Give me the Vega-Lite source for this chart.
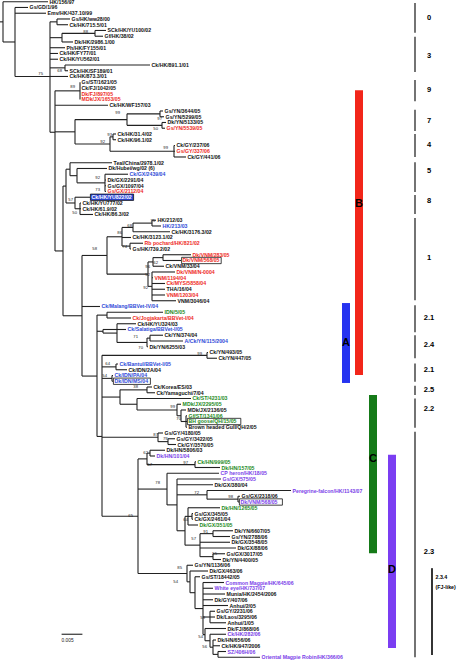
{
"$schema": "https://vega.github.io/schema/vega-lite/v6.json",
"width": 457, "height": 661, "padding": 0, "autosize": {"type": "none"},
"config": {"view": {"stroke": null}, "text": {"font": "Liberation Sans"}},
"resolve": {"scale": {"fill": "independent", "color": "independent"}},
"datasets": {
"v": [
{"x":0.75,"a":0,"b":7.0},{"x":3.75,"a":1,"b":13.0},{"x":12.5,"a":3.5,"b":22.7},{"x":14.25,"a":3,"b":4},{"x":23.75,"a":5,"b":6},{"x":15.5,"a":5.5,"b":7},{"x":16.25,"a":11,"b":12},{"x":13.75,"a":15.5,"b":43.34},{"x":20,"a":14,"b":17},{"x":18.75,"a":20.5,"b":24.75},{"x":31.75,"a":19.5,"b":21.5},{"x":40,"a":19,"b":20},{"x":40.5,"a":21,"b":22},{"x":27.5,"a":23.5,"b":26},{"x":28.25,"a":23,"b":24},{"x":43.5,"a":25,"b":27},
{"x":15.75,"a":32.06,"b":54.61},{"x":16.5,"a":29.125,"b":35},{"x":17.5,"a":28,"b":30.25},{"x":19.25,"a":29,"b":31.5},{"x":26.25,"a":30,"b":33},{"x":18.75,"a":34,"b":36},{"x":20,"a":35,"b":37},
{"x":20.5,"a":44.125,"b":65.1},{"x":26.75,"a":40.875,"b":47.375},{"x":30.5,"a":39.25,"b":42.5},{"x":33.25,"a":38.5,"b":40},{"x":38,"a":38,"b":39},{"x":32.5,"a":42,"b":43},{"x":37,"a":45.25,"b":49.5},{"x":38.25,"a":44.5,"b":46},{"x":40.75,"a":44,"b":45},{"x":38,"a":47,"b":52},
{"x":24.25,"a":54.5,"b":75.6},{"x":26.75,"a":54,"b":55},{"x":25.75,"a":57,"b":57.625},{"x":29.25,"a":56,"b":59.25},{"x":36.75,"a":58.5,"b":60},{"x":37.5,"a":58,"b":59},{"x":51.75,"a":61,"b":62},{"x":29,"a":63,"b":64},{"x":28,"a":65,"b":66},{"x":30,"a":67.5,"b":70},{"x":36.75,"a":67,"b":68},{"x":34.25,"a":69,"b":71},{"x":44.25,"a":70,"b":72},{"x":45.25,"a":71,"b":73},{"x":46.5,"a":72,"b":74},
{"x":25.5,"a":61.5,"b":89.47},{"x":39.5,"a":75,"b":76.5},{"x":42,"a":76,"b":77},{"x":34.5,"a":79.5,"b":99.44},{"x":36.75,"a":78.5,"b":80.5},{"x":37.5,"a":78,"b":79},{"x":48.75,"a":80,"b":81},{"x":41.75,"a":82,"b":87.5},{"x":44.25,"a":83,"b":92},{"x":51.75,"a":85,"b":86.5},{"x":59.5,"a":86,"b":87},{"x":46.25,"a":89.5,"b":94.5},{"x":47,"a":88,"b":91},{"x":48,"a":89,"b":90},{"x":50,"a":92.5,"b":96.5},{"x":53.25,"a":92,"b":93},{"x":53.25,"a":96,"b":97},
{"x":46.75,"a":98,"b":100.88},{"x":47.5,"a":99,"b":102.77},{"x":48.75,"a":100,"b":105.53},{"x":50.75,"a":101,"b":110.06},{"x":52.5,"a":106,"b":108},{"x":51.25,"a":109,"b":111.125},{"x":52.5,"a":110,"b":112.25},{"x":53.25,"a":111,"b":113.5},{"x":54.5,"a":113,"b":114}
],
"h": [
{"p":0,"x":0.75,"y":3.5},{"p":0.75,"x":3.75,"y":7.0},{"p":3.75,"x":12.5,"y":13.0},{"p":12.5,"x":14.25,"y":3.5},{"p":12.5,"x":15.5,"y":6.25},{"p":15.5,"x":23.75,"y":5.5},{"p":12.5,"x":16.25,"y":11.5},{"p":12.5,"x":13.75,"y":22.7},{"p":13.75,"x":20,"y":15.5},{"p":13.75,"x":18.75,"y":22.625},{"p":18.75,"x":31.75,"y":20.5},{"p":31.75,"x":40,"y":19.5},{"p":31.75,"x":40.5,"y":21.5},{"p":18.75,"x":27.5,"y":24.75},{"p":27.5,"x":28.25,"y":23.5},{"p":27.5,"x":43.5,"y":26},
{"p":13.75,"x":15.75,"y":43.34},{"p":15.75,"x":16.5,"y":32.06},{"p":16.5,"x":17.5,"y":29.125},{"p":17.5,"x":19.25,"y":30.25},{"p":19.25,"x":26.25,"y":31.5},{"p":16.5,"x":18.75,"y":35},{"p":18.75,"x":20,"y":36},
{"p":15.75,"x":20.5,"y":54.61},{"p":20.5,"x":26.75,"y":44.125},{"p":26.75,"x":30.5,"y":40.875},{"p":30.5,"x":33.25,"y":39.25},{"p":33.25,"x":38,"y":38.5},{"p":30.5,"x":32.5,"y":42.5},{"p":26.75,"x":37,"y":47.375},{"p":37,"x":38.25,"y":45.25},{"p":38.25,"x":40.75,"y":44.5},{"p":37,"x":38,"y":49.5},
{"p":20.5,"x":24.25,"y":65.1},{"p":24.25,"x":26.75,"y":54.5},{"p":24.25,"x":25.75,"y":57.31},{"p":25.75,"x":29.25,"y":57.625},{"p":29.25,"x":36.75,"y":59.25},{"p":36.75,"x":37.5,"y":58.5},{"p":25.5,"x":51.75,"y":61.5},{"p":25.5,"x":29,"y":63.5},{"p":25.5,"x":28,"y":65.5},{"p":25.5,"x":30,"y":68.75},{"p":30,"x":36.75,"y":67.5},{"p":30,"x":34.25,"y":70},{"p":34.25,"x":44.25,"y":71},{"p":44.25,"x":45.25,"y":72},{"p":45.25,"x":46.5,"y":73},
{"p":24.25,"x":25.5,"y":75.6},{"p":25.5,"x":39.5,"y":75.75},{"p":39.5,"x":42,"y":76.5},{"p":25.5,"x":34.5,"y":89.47},{"p":34.5,"x":36.75,"y":79.5},{"p":36.75,"x":37.5,"y":78.5},{"p":36.75,"x":48.75,"y":80.5},{"p":34.5,"x":41.75,"y":84.75},{"p":41.75,"x":44.25,"y":87.5},{"p":44.25,"x":51.75,"y":85.75},{"p":51.75,"x":59.5,"y":86.5},{"p":44.25,"x":46.25,"y":92},{"p":46.25,"x":47,"y":89.5},{"p":47,"x":48,"y":89.5},{"p":46.25,"x":50,"y":94.5},{"p":50,"x":53.25,"y":92.5},{"p":50,"x":53.25,"y":96.5},
{"p":34.5,"x":46.75,"y":99.44},{"p":46.75,"x":47.5,"y":100.88},{"p":47.5,"x":48.75,"y":102.77},{"p":48.75,"x":50.75,"y":105.53},{"p":50.75,"x":52.5,"y":107},{"p":50.75,"x":51.25,"y":110.06},{"p":51.25,"x":52.5,"y":111.125},{"p":52.5,"x":53.25,"y":112.25},{"p":53.25,"x":54.5,"y":113.5}
],
"leaves": [
{"i":0,"p":0.75,"x":12,"t":"HK/156/97","c":"k"},
{"i":1,"p":3.75,"x":7,"t":"Gs/GD/1/96","c":"k"},
{"i":2,"p":3.75,"x":11.5,"t":"Emv/HK/437.10/99","c":"k"},
{"i":3,"p":14.25,"x":17.5,"t":"Gs/HK/ww28/00","c":"k"},
{"i":4,"p":14.25,"x":17,"t":"Ck/HK/715.5/01","c":"k"},
{"i":5,"p":23.75,"x":26.5,"t":"SCk/HK/YU100/02","c":"k"},
{"i":6,"p":23.75,"x":25.75,"t":"Gf/HK/38/02","c":"k"},
{"i":7,"p":15.5,"x":18.25,"t":"Dk/HK/2986.1/00","c":"k"},
{"i":8,"p":12.5,"x":16.25,"t":"Ph/HK/FY155/01","c":"k"},
{"i":9,"p":12.5,"x":14.5,"t":"Ck/HK/FY77/01","c":"k"},
{"i":10,"p":12.5,"x":14.5,"t":"Ck/HK/YU562/01","c":"k"},
{"i":11,"p":16.25,"x":37.5,"t":"Ck/HK/891.1/01","c":"k"},
{"i":12,"p":16.25,"x":17,"t":"SCk/HK/SF189/01","c":"k"},
{"i":13,"p":12.5,"x":17,"t":"Ck/HK/873.3/01","c":"k"},
{"i":14,"p":20,"x":20,"t":"Gs/ST/1621/05","c":"k"},
{"i":15,"p":20,"x":20,"t":"Ck/FJ/1042/05","c":"k"},
{"i":16,"p":20,"x":20,"t":"Dk/FJ/897/05","c":"r"},
{"i":17,"p":20,"x":20,"t":"MDk/JX/1653/05","c":"r"},
{"i":18,"p":13.75,"x":27,"t":"Ck/HK/WF157/03","c":"k"},
{"i":19,"p":40,"x":40.75,"t":"Gs/YN/3644/05","c":"k"},
{"i":20,"p":40,"x":41,"t":"Gs/YN/5299/05","c":"k"},
{"i":21,"p":40.5,"x":41.5,"t":"Dk/YN/5133/05","c":"k"},
{"i":22,"p":40.5,"x":41.25,"t":"Gs/YN/5539/05","c":"r"},
{"i":23,"p":28.25,"x":29,"t":"Ck/HK/31.4/02","c":"k"},
{"i":24,"p":28.25,"x":29,"t":"Ck/HK/96.1/02","c":"k"},
{"i":25,"p":43.5,"x":43.75,"t":"Ck/GY/237/06","c":"k"},
{"i":26,"p":43.5,"x":43.75,"t":"Gs/GY/337/06","c":"r"},
{"i":27,"p":43.5,"x":46.5,"t":"Ck/GY/441/06","c":"k"},
{"i":28,"p":17.5,"x":28,"t":"Teal/China/2978.1/02","c":"k"},
{"i":29,"p":19.25,"x":26.75,"t":"Dk/Hubei/wg/02  (6)","c":"k"},
{"i":30,"p":26.25,"x":32,"t":"Ck/GX/2439/04","c":"b"},
{"i":31,"p":26.25,"x":26.5,"t":"Dk/GX/2291/04","c":"k"},
{"i":32,"p":26.25,"x":26.5,"t":"Gs/GX/1097/04","c":"k"},
{"i":33,"p":26.25,"x":26.5,"t":"Gs/GX/2112/04","c":"r"},
{"i":34,"p":18.75,"x":22.5,"t":"Ck/HK/YU822/02","c":"w"},
{"i":35,"p":20,"x":20.25,"t":"Ck/HK/YU777/02","c":"k"},
{"i":36,"p":20,"x":20.25,"t":"Ck/HK/61.9/02","c":"k"},
{"i":37,"p":20,"x":23.25,"t":"Ck/HK/86.3/02","c":"k"},
{"i":38,"p":38,"x":39,"t":"HK/212/03","c":"k"},
{"i":39,"p":38,"x":40.25,"t":"HK/213/03","c":"b"},
{"i":40,"p":33.25,"x":42.5,"t":"Ck/HK/3176.3/02","c":"k"},
{"i":41,"p":30.5,"x":32.75,"t":"Ck/HK/3123.1/02","c":"k"},
{"i":42,"p":32.5,"x":35.75,"t":"Rb pochard/HK/821/02","c":"r"},
{"i":43,"p":32.5,"x":32.75,"t":"Gs/HK/739.2/02","c":"k"},
{"i":44,"p":40.75,"x":47.75,"t":"Dk/VNM/283/05","c":"r"},
{"i":45,"p":40.75,"x":45.25,"t":"Dk/VNM/568/05","c":"r"},
{"i":46,"p":38.25,"x":41,"t":"Ck/VNM/33/04","c":"k"},
{"i":47,"p":38,"x":43.75,"t":"Dk/VNM/N-0004","c":"r"},
{"i":48,"p":38,"x":38.25,"t":"VNM/1194/04","c":"r"},
{"i":49,"p":38,"x":41.25,"t":"Ck/MYS/5858/04","c":"r"},
{"i":50,"p":38,"x":41.25,"t":"THA/16/04","c":"k"},
{"i":51,"p":38,"x":41.25,"t":"VNM/1203/04","c":"r"},
{"i":52,"p":38,"x":44,"t":"VNM/3046/04","c":"k"},
{"i":53,"p":20.5,"x":25,"t":"Ck/Malang/BBVet-IV/04","c":"b"},
{"i":54,"p":26.75,"x":40.75,"t":"IDN/5/05","c":"g"},
{"i":55,"p":26.75,"x":32.75,"t":"Ck/Jogjakarta/BBVet-I/04","c":"r"},
{"i":56,"p":29.25,"x":34,"t":"Ck/HK/YU324/03","c":"k"},
{"i":57,"p":25.75,"x":31.5,"t":"Ck/Salatiga/BBVet-I/05","c":"b"},
{"i":58,"p":37.5,"x":40.75,"t":"Ck/YN/374/04","c":"k"},
{"i":59,"p":37.5,"x":45.75,"t":"A/Ck/YN/115/2004","c":"b"},
{"i":60,"p":36.75,"x":37,"t":"Dk/YN/6255/03","c":"k"},
{"i":61,"p":51.75,"x":52,"t":"Ck/YN/493/05","c":"k"},
{"i":62,"p":51.75,"x":54.25,"t":"Ck/YN/447/05","c":"k"},
{"i":63,"p":29,"x":29.5,"t":"Ck/Bantul/BBVet-I/05","c":"b"},
{"i":64,"p":29,"x":31.75,"t":"Ck/IDN/2A/04","c":"k"},
{"i":65,"p":28,"x":28.25,"t":"Ck/IDN/PA/04","c":"b"},
{"i":66,"p":28,"x":28.25,"t":"Dk/IDN/MS/04","c":"b"},
{"i":67,"p":36.75,"x":38,"t":"Ck/Korea/ES/03","c":"k"},
{"i":68,"p":36.75,"x":38.75,"t":"Ck/Yamaguchi/7/04","c":"k"},
{"i":69,"p":34.25,"x":47.75,"t":"Ck/ST/4231/03","c":"g"},
{"i":70,"p":44.25,"x":45.25,"t":"MDk/JX/2295/05","c":"g"},
{"i":71,"p":45.25,"x":46.5,"t":"MDk/JX/2136/05","c":"k"},
{"i":72,"p":46.5,"x":46.75,"t":"Gf/ST/1341/06","c":"g"},
{"i":73,"p":46.5,"x":46.75,"t":"BH goose/QH/15/05","c":"g"},
{"i":74,"p":46.5,"x":46.75,"t":"Brown headed Gull/QH/2/05","c":"k"},
{"i":75,"p":39.5,"x":40.75,"t":"Gs/GY/4180/05","c":"k"},
{"i":76,"p":42,"x":43.75,"t":"Gs/GY/3422/05","c":"k"},
{"i":77,"p":42,"x":44,"t":"Ck/GY/3570/05","c":"k"},
{"i":78,"p":37.5,"x":41.25,"t":"Dk/HN/5806/03","c":"k"},
{"i":79,"p":37.5,"x":38.75,"t":"Dk/HN/101/04","c":"p"},
{"i":80,"p":48.75,"x":49,"t":"Ck/HN/999/05","c":"g"},
{"i":81,"p":48.75,"x":55,"t":"Dk/HN/157/05","c":"g"},
{"i":82,"p":41.75,"x":54.75,"t":"CP heron/HK/18/05","c":"p"},
{"i":83,"p":44.25,"x":55.25,"t":"Gs/GX/575/05","c":"p"},
{"i":84,"p":44.25,"x":53.25,"t":"Dk/GX/380/04","c":"k"},
{"i":85,"p":51.75,"x":72.75,"t":"Peregrine-falcon/HK/1143/07","c":"p"},
{"i":86,"p":59.5,"x":60,"t":"Gs/GX/2318/06","c":"k"},
{"i":87,"p":59.5,"x":59.75,"t":"Dk/VNM/568/05","c":"p"},
{"i":88,"p":47,"x":55,"t":"Dk/HN/1265/05","c":"g"},
{"i":89,"p":48,"x":48.25,"t":"Gs/GX/345/05","c":"k"},
{"i":90,"p":48,"x":48.25,"t":"Ck/GX/2461/04","c":"k"},
{"i":91,"p":47,"x":49.5,"t":"Dk/GX/351/05","c":"g"},
{"i":92,"p":53.25,"x":58.25,"t":"Dk/YN/6607/05","c":"k"},
{"i":93,"p":53.25,"x":57.5,"t":"Gs/YN/2788/06","c":"k"},
{"i":94,"p":50,"x":57.5,"t":"Dk/GX/3548/05","c":"k"},
{"i":95,"p":50,"x":59,"t":"Dk/GX/88/06","c":"k"},
{"i":96,"p":53.25,"x":56.25,"t":"Gs/GX/3017/05","c":"k"},
{"i":97,"p":53.25,"x":55.25,"t":"Dk/YN/4400/05","c":"k"},
{"i":98,"p":46.75,"x":48.25,"t":"Gs/YN/1136/06","c":"k"},
{"i":99,"p":47.5,"x":52,"t":"Dk/GX/463/06","c":"k"},
{"i":100,"p":48.75,"x":50,"t":"Gs/ST/18442/05","c":"k"},
{"i":101,"p":50.75,"x":56,"t":"Common Magpie/HK/645/06","c":"p"},
{"i":102,"p":50.75,"x":53.25,"t":"White eye/HK/737/07","c":"p"},
{"i":103,"p":50.75,"x":56.25,"t":"Munia/HK/2454/2006","c":"k"},
{"i":104,"p":50.75,"x":53.25,"t":"Dk/GY/407/06","c":"k"},
{"i":105,"p":50.75,"x":57,"t":"Anhui/2/05","c":"k"},
{"i":106,"p":52.5,"x":53.75,"t":"Gs/GY/2231/06","c":"k"},
{"i":107,"p":52.5,"x":53.75,"t":"Dk/Laos/3295/06","c":"k"},
{"i":108,"p":52.5,"x":56.5,"t":"Anhui/1/05","c":"k"},
{"i":109,"p":51.25,"x":56.5,"t":"Dk/FJ/868/06","c":"k"},
{"i":110,"p":52.5,"x":56.5,"t":"Ck/HK/282/06","c":"p"},
{"i":111,"p":53.25,"x":54,"t":"Dk/HN/656/06","c":"k"},
{"i":112,"p":53.25,"x":55,"t":"Ck/HK/947/2006","c":"k"},
{"i":113,"p":54.5,"x":56.5,"t":"SZ/406H/06","c":"p"},
{"i":114,"p":54.5,"x":65,"t":"Oriental Magpie Robin/HK/366/06","c":"p"}
],
"boot": [
{"x":10.75,"y":12.6,"v":"75"},{"x":22,"y":5.2,"v":"88"},{"x":15.5,"y":12.05,"v":"68"},{"x":18.75,"y":14.8,"v":"89"},{"x":30,"y":19.4,"v":"99"},{"x":40.5,"y":20.4,"v":"97"},{"x":39.5,"y":22.1,"v":"50"},{"x":28,"y":23.2,"v":"93"},{"x":26.25,"y":24.4,"v":"92"},{"x":42,"y":25.4,"v":"99"},{"x":25,"y":30.7,"v":"92"},{"x":25,"y":32.8,"v":"73"},{"x":18.25,"y":34.5,"v":"57"},{"x":19.25,"y":36.7,"v":"50"},{"x":38.75,"y":38.1,"v":"75"},{"x":33,"y":39,"v":"68"},{"x":30.5,"y":40.2,"v":"86"},{"x":31.75,"y":42.7,"v":"74"},{"x":24.25,"y":43,"v":"58"},{"x":37.5,"y":46.1,"v":"96"},{"x":39.5,"y":45.5,"v":"62"},{"x":37.5,"y":47.5,"v":"52"},{"x":37,"y":49.8,"v":"92"},{"x":34.5,"y":58.3,"v":"71"},{"x":35.75,"y":60.2,"v":"70"},{"x":50.5,"y":61.3,"v":"99"},{"x":27.5,"y":63,"v":"64"},{"x":26.75,"y":65.1,"v":"54"},{"x":34.5,"y":67,"v":"38"},{"x":43.75,"y":70.5,"v":"99"},{"x":45.25,"y":72.6,"v":"70"},{"x":39.5,"y":75.4,"v":"87"},{"x":41.9,"y":76.1,"v":"79"},{"x":37,"y":78.5,"v":"62"},{"x":38,"y":80.6,"v":"57"},{"x":47,"y":80.2,"v":"97"},{"x":40,"y":83.7,"v":"78"},{"x":33.25,"y":89.4,"v":"65"},{"x":49.75,"y":85.4,"v":"72"},{"x":58.25,"y":86.1,"v":"98"},{"x":47,"y":90.1,"v":"64"},{"x":52,"y":92.2,"v":"91"},{"x":49,"y":93.4,"v":"57"},{"x":54.25,"y":96,"v":"55"},{"x":45.5,"y":98.5,"v":"85"},{"x":44.5,"y":100.9,"v":"54"},{"x":51.25,"y":107.2,"v":"59"},{"x":50.75,"y":110.5,"v":"54"},{"x":51.75,"y":112.2,"v":"56"}
],
"boxes": [
{"a":22.6,"b":33.4,"y1":33.45,"y2":34.55,"f":"b"},{"a":45.4,"b":55.3,"y1":44.45,"y2":45.55,"f":"n"},{"a":28.35,"b":37.6,"y1":65.45,"y2":66.55,"f":"n"},{"a":46.85,"b":60.2,"y1":72.45,"y2":73.55,"f":"n"},{"a":59.85,"b":70.6,"y1":86.45,"y2":87.55,"f":"n"}
],
"bars": [
{"a":85.5,"b":87.5,"y1":52.4,"y2":66.3,"k":"A","lx":86.5,"ly":59.4},{"a":88.75,"b":90.75,"y1":15.4,"y2":64.9,"k":"B","lx":89.75,"ly":35.2},{"a":92.25,"b":94.25,"y1":68.4,"y2":95.9,"k":"C","lx":93.25,"ly":79.5},{"a":97,"b":99,"y1":78.8,"y2":112.4,"k":"D","lx":98,"ly":98.8}
],
"clades": [
{"x":103.75,"a":0.2,"b":5.4,"t":"0","ly":2.8},{"x":103.75,"a":6.1,"b":12.2,"t":"3","ly":9.4},{"x":103.75,"a":13.6,"b":17.3,"t":"9","ly":15.4},{"x":103.75,"a":18.8,"b":22.5,"t":"7","ly":20.7},{"x":103.75,"a":23,"b":27,"t":"4","ly":24.9},{"x":103.75,"a":27.9,"b":33.1,"t":"5","ly":29.5},{"x":103.75,"a":33.6,"b":36.9,"t":"8","ly":34.7},{"x":103.75,"a":37.6,"b":51.9,"t":"1","ly":44.6},{"x":103.75,"a":52.8,"b":57.5,"t":"2.1","ly":55},{"x":103.75,"a":58,"b":62,"t":"2.4","ly":59.7},{"x":103.75,"a":62.9,"b":66.1,"t":"2.1","ly":64},{"x":103.75,"a":66.8,"b":68.4,"t":"2.5","ly":67.5},{"x":103.75,"a":69,"b":74.1,"t":"2.2","ly":70.8},{"x":103.75,"a":74.8,"b":114,"t":"2.3","ly":95.7}
],
"sub": [
{"x":108,"a":98.5,"b":113.6,"t":"2.3.4","ly":100},{"x":108,"a":98.5,"b":113.6,"t":"(FJ-like)","ly":101.8}
]
},
"layer": [
{"data": {"name": "v"}, "mark": {"type": "rule", "color": "#222", "strokeWidth": 1.1},
 "encoding": {"x": {"field": "x", "type": "quantitative", "scale": {"domain": [0, 114.25], "nice": false, "zero": false}, "axis": null},
  "y": {"field": "a", "type": "quantitative", "scale": {"domain": [-0.3, 114.65], "reverse": true, "nice": false, "zero": false}, "axis": null},
  "y2": {"field": "b"}}},
{"data": {"name": "h"}, "mark": {"type": "rule", "color": "#222", "strokeWidth": 1.1},
 "encoding": {"x": {"field": "p", "type": "quantitative"}, "x2": {"field": "x"}, "y": {"field": "y", "type": "quantitative"}}},
{"data": {"name": "leaves"}, "mark": {"type": "rule", "color": "#222", "strokeWidth": 1.1},
 "encoding": {"x": {"field": "p", "type": "quantitative"}, "x2": {"field": "x"}, "y": {"field": "i", "type": "quantitative"}}},
{"data": {"name": "boxes"}, "mark": {"type": "rect", "stroke": "#111", "strokeWidth": 0.8},
 "encoding": {"x": {"field": "a", "type": "quantitative"}, "x2": {"field": "b"}, "y": {"field": "y1", "type": "quantitative"}, "y2": {"field": "y2"},
  "fill": {"field": "f", "type": "nominal", "scale": {"domain": ["b", "n"], "range": ["#2b46d6", "#ffffff"]}, "legend": null}}},
{"data": {"name": "leaves"}, "mark": {"type": "text", "align": "left", "baseline": "middle", "dx": 1.6, "fontSize": 5.2, "fontWeight": "bold"},
 "encoding": {"x": {"field": "x", "type": "quantitative"}, "y": {"field": "i", "type": "quantitative"}, "text": {"field": "t"},
  "color": {"field": "c", "type": "nominal", "scale": {"domain": ["k", "r", "b", "g", "p", "w"], "range": ["#111111", "#ee2a1e", "#2e4ad8", "#1d8a22", "#7a3ee8", "#ffffff"]}, "legend": null}}},
{"data": {"name": "boot"}, "mark": {"type": "text", "align": "right", "baseline": "middle", "fontSize": 4.2, "color": "#222"},
 "encoding": {"x": {"field": "x", "type": "quantitative"}, "y": {"field": "y", "type": "quantitative"}, "text": {"field": "v"}}},
{"data": {"name": "bars"}, "mark": {"type": "rect"},
 "encoding": {"x": {"field": "a", "type": "quantitative"}, "x2": {"field": "b"}, "y": {"field": "y1", "type": "quantitative"}, "y2": {"field": "y2"},
  "fill": {"field": "k", "type": "nominal", "scale": {"domain": ["A", "B", "C", "D"], "range": ["#2633f0", "#f2261a", "#157a18", "#7b3ef2"]}, "legend": null}}},
{"data": {"name": "bars"}, "mark": {"type": "text", "align": "center", "baseline": "middle", "fontSize": 11, "fontWeight": "bold", "fill": "#000000"},
 "encoding": {"x": {"field": "lx", "type": "quantitative"}, "y": {"field": "ly", "type": "quantitative"}, "text": {"field": "k"}}},
{"data": {"name": "clades"}, "mark": {"type": "rule", "color": "#000", "strokeWidth": 1.1},
 "encoding": {"x": {"field": "x", "type": "quantitative"}, "y": {"field": "a", "type": "quantitative"}, "y2": {"field": "b"}}},
{"data": {"name": "clades"}, "mark": {"type": "text", "align": "center", "baseline": "middle", "dx": 14, "fontSize": 7.5, "fontWeight": "bold", "fill": "#000000"},
 "encoding": {"x": {"field": "x", "type": "quantitative"}, "y": {"field": "ly", "type": "quantitative"}, "text": {"field": "t"}}},
{"data": {"name": "sub"}, "mark": {"type": "rule", "color": "#000", "strokeWidth": 1.1},
 "encoding": {"x": {"field": "x", "type": "quantitative"}, "y": {"field": "a", "type": "quantitative"}, "y2": {"field": "b"}}},
{"data": {"name": "sub"}, "mark": {"type": "text", "align": "left", "baseline": "middle", "dx": 3.5, "fontSize": 5.3, "fontWeight": "bold", "fill": "#000000"},
 "encoding": {"x": {"field": "x", "type": "quantitative"}, "y": {"field": "ly", "type": "quantitative"}, "text": {"field": "t"}}},
{"data": {"values": [{"a": 15.4, "b": 20.6, "y": 110, "t": "0.005", "ty": 111.1}]}, "layer": [
 {"mark": {"type": "rule", "color": "#333", "strokeWidth": 1.2}, "encoding": {"x": {"field": "a", "type": "quantitative"}, "x2": {"field": "b"}, "y": {"field": "y", "type": "quantitative"}}},
 {"mark": {"type": "text", "align": "left", "baseline": "middle", "fontSize": 4.8, "color": "#222"}, "encoding": {"x": {"field": "a", "type": "quantitative"}, "y": {"field": "ty", "type": "quantitative"}, "text": {"field": "t"}}}
]}
]
}
